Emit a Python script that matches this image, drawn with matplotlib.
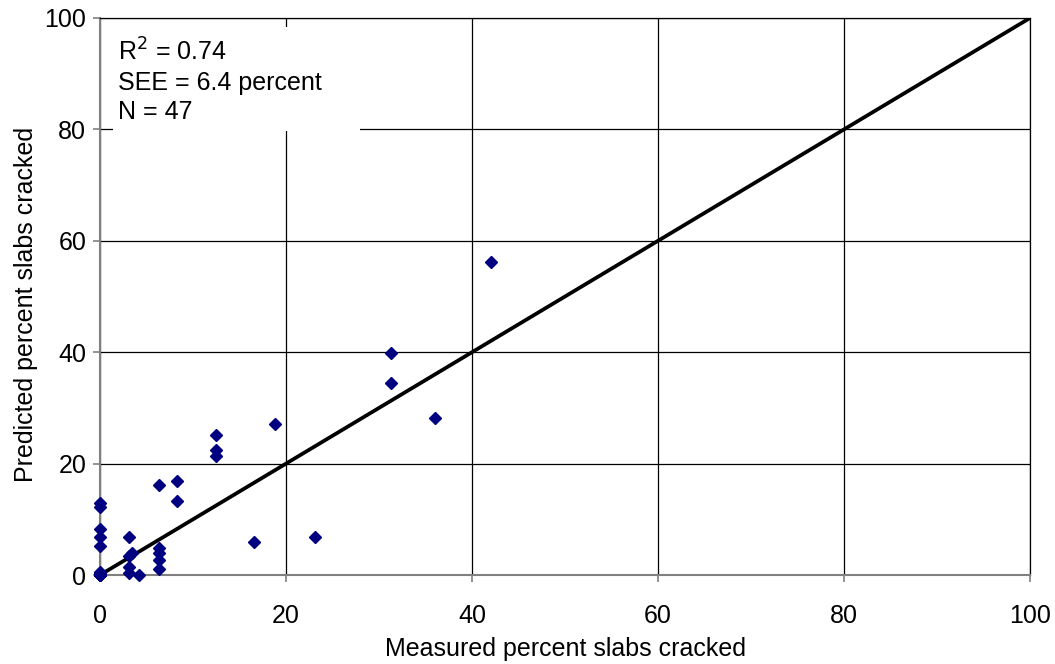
import matplotlib.pyplot as plt
import matplotlib.patches as mpatches

plt.rcParams['font.family'] = ['Liberation Sans', 'DejaVu Sans']

# measured vs predicted percent slabs cracked (many points overlap at the origin)
measured = [0, 0, 0, 0, 0, 0, 0, 0, 0, 0, 0, 0, 0, 0, 0, 0, 0, 0, 0, 0, 0, 0, 0,
            3.1, 3.1, 3.1, 3.4, 3.1, 4.2,
            6.3, 6.3, 6.3, 6.3, 6.3, 8.3, 8.3,
            12.5, 12.5, 12.5, 16.6, 18.8, 23.1, 31.3, 31.3, 36.0, 42.0, 0]
predicted = [0, 0, 0, 0, 0, 0, 0, 0, 0, 0, 0, 0, 0, 0, 0.3, 0.6, 0.2, 5.3, 6.9, 8.2, 12.2, 13.0, 0.1,
             0.4, 1.4, 3.5, 3.9, 6.9, 0,
             1.1, 2.7, 4.0, 4.9, 16.2, 13.2, 16.9,
             21.4, 22.4, 25.2, 5.9, 27.1, 6.9, 34.5, 39.8, 28.2, 56.2, 0]

stats_text = "R$^2$ = 0.74\nSEE = 6.4 percent\nN = 47"

fig = plt.figure(figsize=(10.55, 6.64), dpi=100)
ax = fig.add_axes([0.0948, 0.134, 0.8815, 0.8389])

ax.set_xlim(0, 100)
ax.set_ylim(0, 100)
ax.set_xticks(range(0, 101, 20))
ax.set_yticks(range(0, 101, 20))
ax.grid(True, color='black', linewidth=0.9)
ax.set_axisbelow(True)

ax.plot([0, 100], [0, 100], color='black', linewidth=2.7, zorder=2)
ax.plot(measured, predicted, linestyle='none', marker='D', markersize=6,
        color='#000080', zorder=3, clip_on=False)

# white box behind the statistics, hiding the grid
ax.add_patch(mpatches.Rectangle((0.014, 0.797), 0.266, 0.187, transform=ax.transAxes,
                                facecolor='white', edgecolor='none', zorder=1))
ax.text(0.019, 0.963, stats_text, transform=ax.transAxes, fontsize=18,
        va='top', ha='left', linespacing=1.26, zorder=4)

for side in ['left', 'bottom']:
    ax.spines[side].set_color('#808080')
    ax.spines[side].set_linewidth(1.5)
for side in ['top', 'right']:
    ax.spines[side].set_color('black')
    ax.spines[side].set_linewidth(0.9)

ax.tick_params(labelsize=18, length=5, color='#808080', width=1.2)
ax.tick_params(axis='x', pad=16)
ax.tick_params(axis='y', pad=5)
ax.set_xlabel('Measured percent slabs cracked', fontsize=18, labelpad=6)
ax.set_ylabel('Predicted percent slabs cracked', fontsize=18, labelpad=5)
ax.yaxis.set_label_coords(-0.0665, 0.485)

fig.savefig('out.png', dpi=100)
